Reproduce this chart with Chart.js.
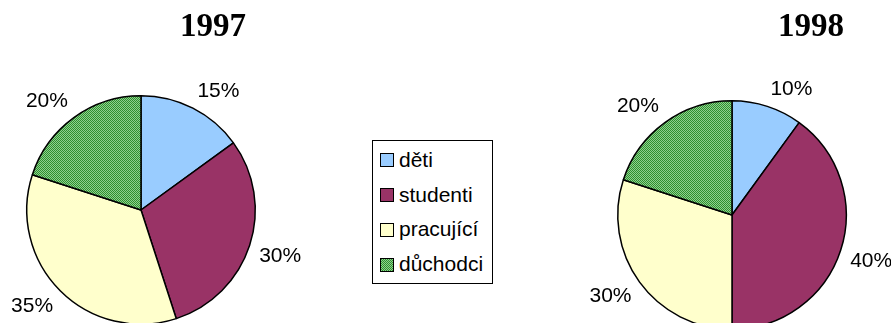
<!DOCTYPE html>
<html>
<head>
<meta charset="utf-8">
<script src="https://cdn.jsdelivr.net/npm/chart.js@4.4.1/dist/chart.umd.min.js"></script>
<style>
  body { margin:0; width:891px; height:323px; overflow:hidden; background:#fff; position:relative; }
  canvas { position:absolute; top:0; }
  #c1997 { left:0; }
  #c1998 { left:590px; }
  #legend { position:absolute; left:372px; top:140px; width:119px; height:142px; border:1px solid #000; background:#fff;
            font-family:"Liberation Sans", Arial, sans-serif; font-size:21px; color:#000; }
  .item { position:absolute; left:7px; height:24px; line-height:24px; white-space:nowrap; }
  .sw { display:inline-block; width:12px; height:12px; border:1px solid #000; vertical-align:middle; margin-right:5px; position:relative; top:-1px; }
</style>
</head>
<body>
<canvas id="c1997" width="340" height="360"></canvas>
<canvas id="c1998" width="301" height="360"></canvas>
<div id="legend"></div>
<script>
// data
const categories = ['děti', 'studenti', 'pracující', 'důchodci'];
const years = ['1997', '1998'];
const values1997 = [15, 30, 35, 20];
const values1998 = [10, 40, 30, 20];

// green dotted fill for the last slice
const pat = document.createElement('canvas');
pat.width = 2; pat.height = 2;
const pctx = pat.getContext('2d');
pctx.fillStyle = '#8fd08f'; pctx.fillRect(0, 0, 2, 2);
pctx.fillStyle = '#2f8f2f'; pctx.fillRect(0, 0, 1, 1); pctx.fillRect(1, 1, 1, 1);
const greenFill = pctx.createPattern(pat, 'repeat');
const colors = ['#99ccff', '#993366', '#ffffcc', greenFill];

const outLabels = {
  id: 'outLabels',
  afterDatasetsDraw(chart) {
    const ctx = chart.ctx;
    const meta = chart.getDatasetMeta(0);
    const vals = chart.data.datasets[0].data;
    ctx.save();
    ctx.font = '21px "Liberation Sans", Arial, sans-serif';
    ctx.fillStyle = '#000';
    ctx.textAlign = 'center';
    ctx.textBaseline = 'middle';
    meta.data.forEach((arc, i) => {
      const p = arc.getProps(['x', 'y', 'startAngle', 'endAngle', 'outerRadius'], true);
      const mid = (p.startAngle + p.endAngle) / 2;
      const txt = vals[i] + '%';
      const hw = ctx.measureText(txt).width / 2;
      const c = Math.cos(mid), s = Math.sin(mid);
      const d = p.outerRadius + 10;
      // label box sits just outside the rim, corner toward the slice
      const lx = p.x + c * d + Math.sign(c) * hw;
      const ly = p.y + s * d + Math.sign(s) * 8;
      ctx.fillText(txt, lx, ly);
    });
    // year title
    const t = chart.options.plugins.yearTitle;
    ctx.font = 'bold 33px "Liberation Serif", "Times New Roman", serif';
    ctx.fillText(t.text, t.x, 27);
    ctx.restore();
  }
};

function makePie(id, year, values, titleX, pad) {
  return new Chart(document.getElementById(id), {
    type: 'pie',
    data: {
      labels: categories,
      datasets: [{ data: values, backgroundColor: colors, borderColor: '#000', borderWidth: 1.5 }]
    },
    options: {
      responsive: false,
      animation: false,
      layout: { padding: pad },
      plugins: {
        legend: { display: false },
        tooltip: { enabled: false },
        yearTitle: { text: year, x: titleX }
      }
    },
    plugins: [outLabels]
  });
}

makePie('c1997', years[0], values1997, 213, { top: 95, bottom: 35, left: 26, right: 84 });
makePie('c1998', years[1], values1998, 221, { top: 100, bottom: 30, left: 27, right: 44 });

// legend
const lg = document.getElementById('legend');
const patUrl = pat.toDataURL();
categories.forEach((c, i) => {
  const it = document.createElement('div');
  it.className = 'item';
  it.style.top = (7 + i * 34.7) + 'px';
  const sw = document.createElement('span');
  sw.className = 'sw';
  if (i === 3) { sw.style.backgroundImage = 'url(' + patUrl + ')'; }
  else sw.style.background = colors[i];
  it.appendChild(sw);
  it.appendChild(document.createTextNode(c));
  lg.appendChild(it);
});
</script>
</body>
</html>
